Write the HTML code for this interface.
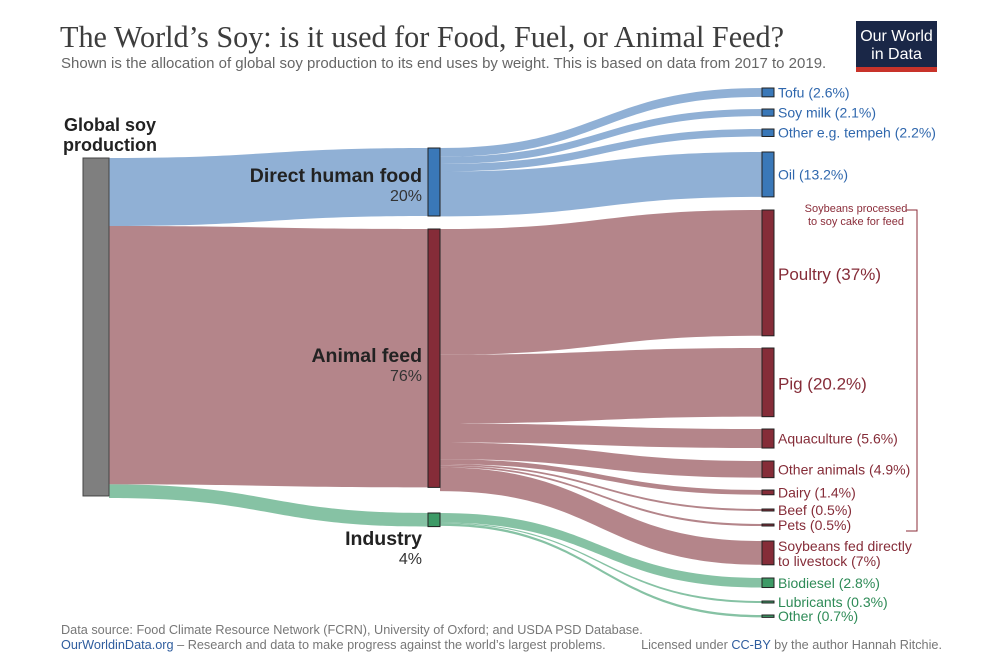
<!DOCTYPE html>
<html><head><meta charset="utf-8"><style>
body{margin:0;background:#fff;}
svg{display:block;font-family:"Liberation Sans",sans-serif;}
</style></head><body>
<svg id="c" width="1000" height="670" viewBox="0 0 1000 670">
<text x="60" y="47" font-family="Liberation Serif,serif" font-size="30.2" fill="#3d3d3d">The World’s Soy: is it used for Food, Fuel, or Animal Feed?</text>
<text x="61" y="68" font-size="15" fill="#666">Shown is the allocation of global soy production  to its end uses by weight. This is based on data from 2017 to 2019.</text>
<g>
<rect x="856" y="21" width="81" height="51" fill="#1a2747"/>
<rect x="856" y="67" width="81" height="5" fill="#c8332a"/>
<text x="896.5" y="41" font-size="16" fill="#fff" text-anchor="middle">Our World</text>
<text x="896.5" y="59" font-size="16" fill="#fff" text-anchor="middle">in Data</text>
</g>
<g id="flows"></g><g id="nodes"></g><g id="labels"></g>
<g>
<path d="M906 210 H917 V531 H906" fill="none" stroke="#8b2d3a" stroke-width="1"/>
<text x="856" y="212" font-size="11" fill="#8b2d3a" text-anchor="middle">Soybeans processed</text>
<text x="856" y="225" font-size="11" fill="#8b2d3a" text-anchor="middle">to soy cake for feed</text>
</g>
<text x="61" y="634" font-size="12.7" fill="#777">Data source: Food Climate Resource Network (FCRN), University of Oxford; and USDA PSD Database.</text>
<text x="61" y="649" font-size="12.7" fill="#777"><tspan fill="#2f5d9e">OurWorldinData.org</tspan> – Research and data to make progress against the world’s largest problems.</text>
<text x="942" y="649" font-size="12.7" fill="#777" text-anchor="end">Licensed under <tspan fill="#2f5d9e">CC-BY</tspan> by the author Hannah Ritchie.</text>
</svg>
<script>
const midNames=["Direct human food","Animal feed","Industry"];
const midValues=[20,76,4];
const endNames=["Tofu","Soy milk","Other e.g. tempeh","Oil","Poultry","Pig","Aquaculture","Other animals","Dairy","Beef","Pets","Soybeans fed directly to livestock","Biodiesel","Lubricants","Other"];
const endValues=[2.6,2.1,2.2,13.2,37,20.2,5.6,4.9,1.4,0.5,0.5,7,2.8,0.3,0.7];
const endGroup=[0,0,0,0,1,1,1,1,1,1,1,1,2,2,2];
const S=3.4;
const layoutMidTop=[148,229,513];
const layoutEndTop=[88,109,129,152,210,348,429,461,490,509,524,541,578,601,615];
const flowCol=["#8aacd3","#b07e84","#7fbf9f"];
const nodeCol=["#3a78b8","#852c38","#3d9a66"];
const labCol=["#2f67ad","#852c38","#2e8b57"];
const NS="http://www.w3.org/2000/svg";
const F=document.getElementById('flows'),N=document.getElementById('nodes'),L=document.getElementById('labels');
function mk(tag,attrs,parent){const e=document.createElementNS(NS,tag);for(const k in attrs)e.setAttribute(k,attrs[k]);parent.appendChild(e);return e;}
function flow(x0,a,x1,b,h0,h1,col){const xm=(x0+x1)/2;return mk('path',{d:`M${x0} ${a} C${xm} ${a} ${xm} ${b} ${x1} ${b} L${x1} ${b+h1} C${xm} ${b+h1} ${xm} ${a+h0} ${x0} ${a+h0} Z`,fill:col,opacity:0.95},F);}
const total=midValues.reduce((s,v)=>s+v,0);
const g=mk('rect',{x:83,y:158,width:26,height:total*S*0.994,fill:"#7f7f7f",stroke:"#444","stroke-width":1},N);


let ly=158;
midValues.forEach((v,i)=>{
 const h=v*S;
 const p=flow(109,ly,428,layoutMidTop[i],h,h,flowCol[i]);
 
 
 ly+=h;
});
const srcOff=[0,0,0];
endValues.forEach((v,i)=>{
 const gi=endGroup[i];const h=v*S;
 const a=layoutMidTop[gi]+srcOff[gi];srcOff[gi]+=h;
 const hd=Math.max(h,2);
 const p=flow(440,a,762,layoutEndTop[i],h,hd,flowCol[gi]);
 
 
});
midValues.forEach((v,i)=>{
 const r=mk('rect',{x:428,y:layoutMidTop[i],width:12,height:v*S,fill:nodeCol[i],stroke:"#222","stroke-width":1},N);
 
 
});
const midLabY=[182,362,545];
midValues.forEach((v,i)=>{
 const t=mk('text',{x:422,y:midLabY[i],"font-size":19.5,"font-weight":"bold",fill:"#222","text-anchor":"end"},L);t.textContent=midNames[i];
 
 
 const p=mk('text',{x:422,y:midLabY[i]+19,"font-size":16,fill:"#333","text-anchor":"end"},L);p.textContent=v+'%';
 
 
});
const gl1=mk('text',{x:110,y:131,"font-size":18,"font-weight":"bold",fill:"#222","text-anchor":"middle"},L);gl1.textContent="Global soy";


const gl2=mk('text',{x:110,y:151,"font-size":18,"font-weight":"bold",fill:"#222","text-anchor":"middle"},L);gl2.textContent="production";


endValues.forEach((v,i)=>{
 const gi=endGroup[i];const h=Math.max(v*S,2);const top=layoutEndTop[i];
 const r=mk('rect',{x:762,y:top,width:12,height:h,fill:nodeCol[gi],stroke:"#222","stroke-width":1},N);
 
 
 const big=(v>15);
 const fs=big?17:14;
 const t=mk('text',{x:778,y:top+h/2+5+(big?2:0),"font-size":fs,fill:labCol[gi]},L);
 
 
 if(endNames[i].startsWith("Soybeans fed")){
  t.setAttribute('y',top+10);
  const a=mk('tspan',{x:778},t);a.textContent="Soybeans fed directly";
  const b=mk('tspan',{x:778,dy:15},t);b.textContent="to livestock ("+v+"%)";
 } else t.textContent=endNames[i]+" ("+v+"%)";
});
</script>
</body></html>
